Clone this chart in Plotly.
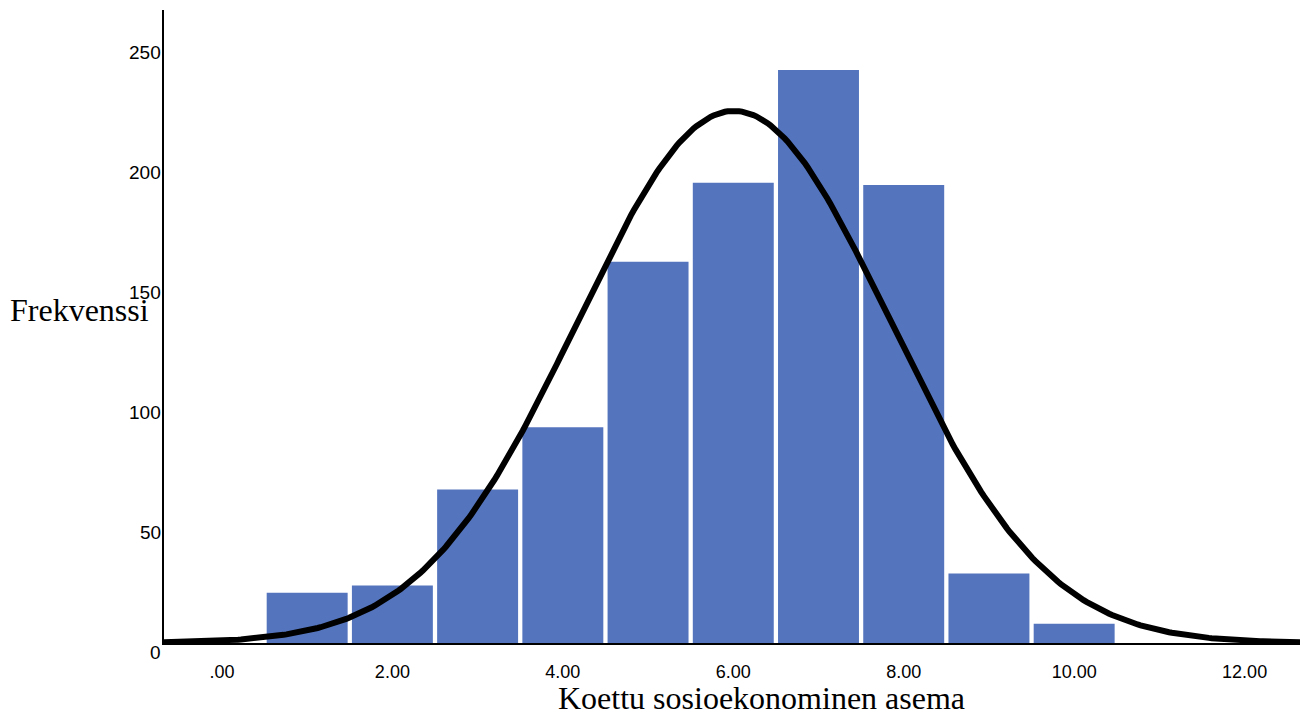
import numpy as np
import plotly.graph_objects as go

# Data
categories = [1, 2, 3, 4, 5, 6, 7, 8, 9, 10]
counts = [21, 24, 64, 90, 159, 192, 239, 191, 29, 8]
x_tickvals = [0, 2, 4, 6, 8, 10, 12]
x_ticktext = [".00", "2.00", "4.00", "6.00", "8.00", "10.00", "12.00"]
y_tickvals = [0, 50, 100, 150, 200, 250]

cats = np.array(categories, dtype=float)
cnt = np.array(counts, dtype=float)
N = cnt.sum()
mean = (cats * cnt).sum() / N
sd = np.sqrt(((cats - mean) ** 2 * cnt).sum() / (N - 1))

XMIN, XMAX = -0.68, 12.65
YMAX = 264
xs = np.linspace(XMIN, XMAX, 400)
ys = N * 1.0 / (sd * np.sqrt(2 * np.pi)) * np.exp(-0.5 * ((xs - mean) / sd) ** 2)

fig = go.Figure()
fig.add_trace(go.Bar(x=categories, y=counts, width=0.95,
                     marker=dict(color="#5475be", line=dict(width=0)),
                     hoverinfo="skip"))
fig.add_trace(go.Scatter(x=xs, y=ys, mode="lines",
                         line=dict(color="black", width=6), hoverinfo="skip"))

for v in y_tickvals:
    fig.add_annotation(x=0, xref="paper", y=v, yref="y", yshift=-9,
                       text=str(v), showarrow=False, xanchor="right",
                       xshift=-1,
                       font=dict(family="Liberation Sans, Arial", size=19, color="black"))

fig.add_annotation(x=(8 - 164) / 1136, xref="paper", y=(643 - 310) / 633, yref="paper",
                   text="Frekvenssi", showarrow=False, xanchor="left", yanchor="middle",
                   font=dict(family="Liberation Serif, Times New Roman", size=32, color="black"))
fig.add_annotation(x=(761 - 164) / 1136, xref="paper", y=(643 - 698) / 633, yref="paper",
                   text="Koettu sosioekonominen asema", showarrow=False,
                   xanchor="center", yanchor="middle",
                   font=dict(family="Liberation Serif, Times New Roman", size=32, color="black"))

fig.update_layout(
    width=1300, height=713,
    margin=dict(l=164, r=0, t=10, b=70),
    paper_bgcolor="white", plot_bgcolor="white",
    showlegend=False,
    xaxis=dict(range=[XMIN, XMAX], tickvals=x_tickvals, ticktext=x_ticktext,
               showgrid=False, zeroline=False, showline=True, linecolor="black",
               linewidth=1.5, ticks="", ticklabelstandoff=12,
               tickfont=dict(family="Liberation Sans, Arial", size=18, color="black")),
    yaxis=dict(range=[0, YMAX], showticklabels=False, showgrid=False, zeroline=False,
               showline=True, linecolor="black", linewidth=1.5, ticks=""),
)

fig.write_html("out.html", config={"displayModeBar": False},
               post_script="document.body.style.margin='0';document.body.style.padding='0';document.body.style.overflow='hidden';")
